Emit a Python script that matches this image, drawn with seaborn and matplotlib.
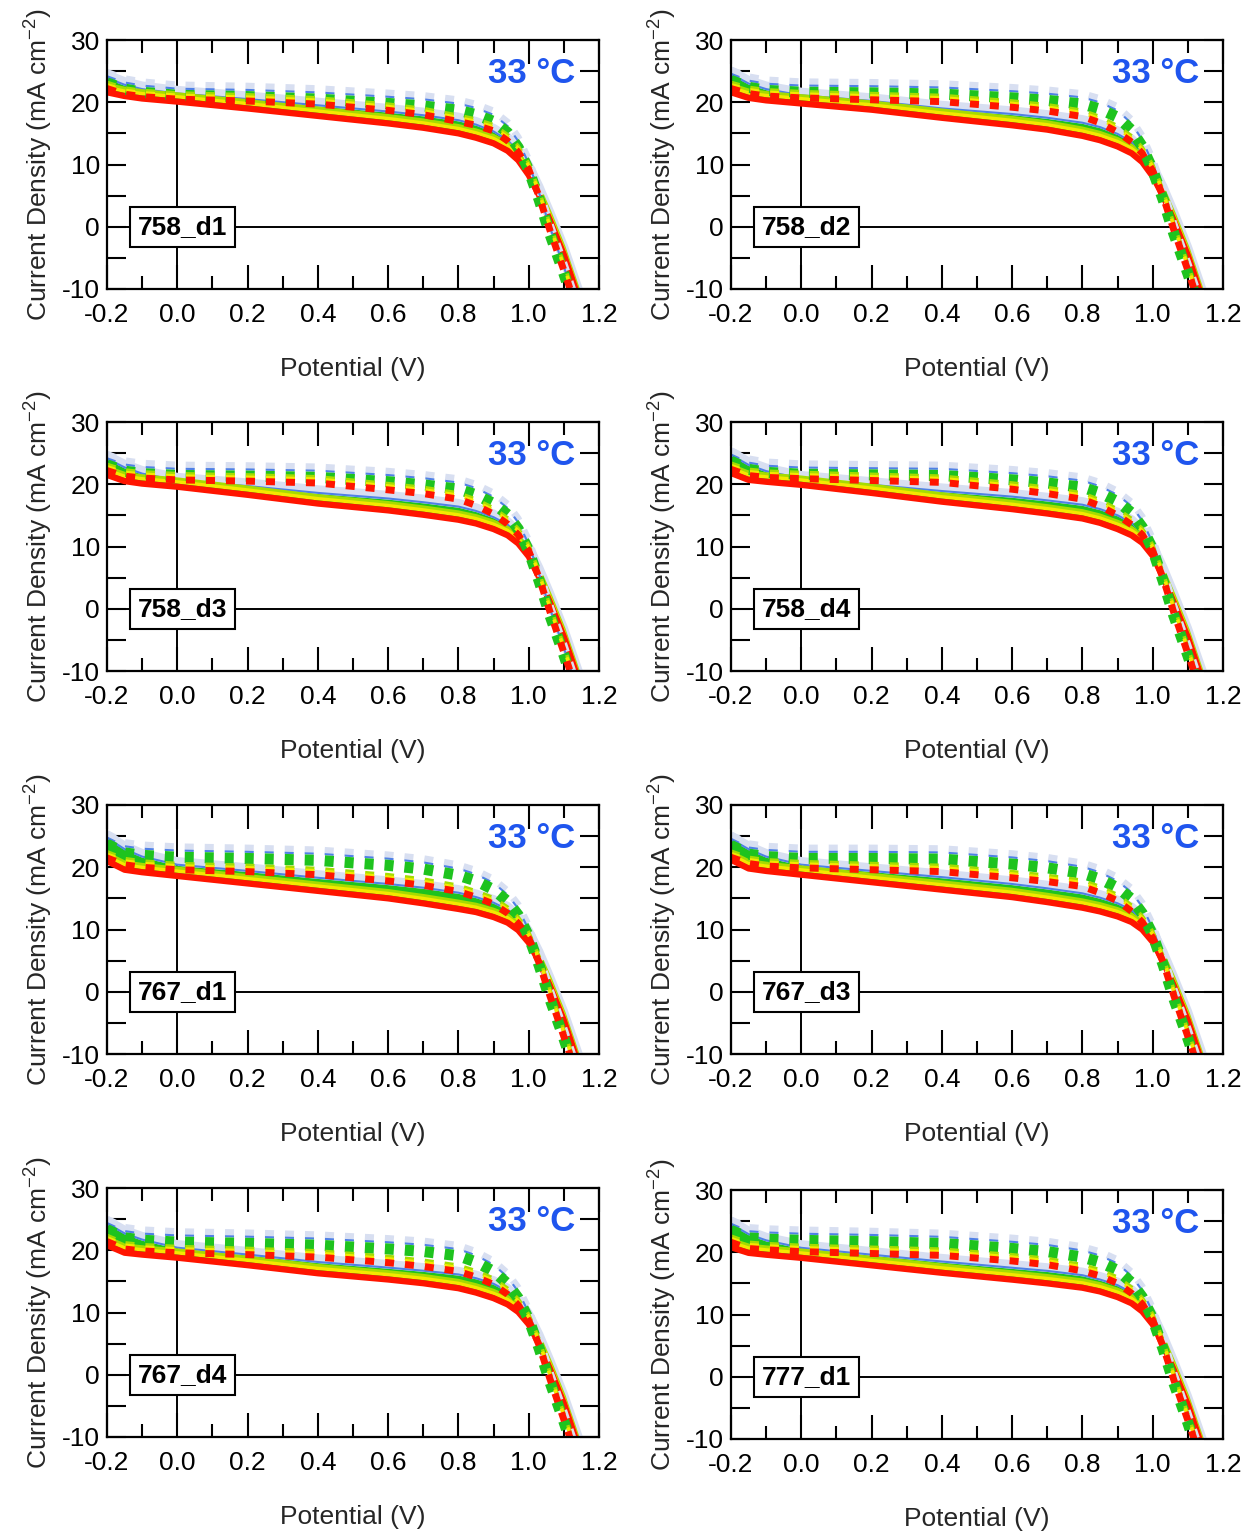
import matplotlib
matplotlib.use("Agg")
import matplotlib.pyplot as plt
import matplotlib.transforms as mtransforms
from matplotlib.ticker import MultipleLocator
import seaborn as sns

# potential grid shared by all curves (V)
potential = [-0.2, -0.15, -0.1, 0.0, 0.2, 0.4, 0.6, 0.7, 0.8, 0.85, 0.9, 0.94, 0.97,
             1.0, 1.03, 1.06, 1.1, 1.15]

devices = ["758_d1", "758_d2", "758_d3", "758_d4", "767_d1", "767_d3", "767_d4", "777_d1"]

# current density (mA cm-2)
# solid scans: upper (blue) and lower (red) edge of the family
# dashed scans: upper (blue) and lower (red) edge of the family
d758_1_solid_hi = [23.8, 22.7, 22.0, 21.3, 20.4, 19.4, 18.4, 17.8, 17.0, 16.3, 15.2, 13.8, 12.0, 9.3, 5.8, 1.8, -3.8, -12.0]
d758_1_solid_lo = [21.6, 21.0, 20.6, 20.1, 19.0, 17.8, 16.6, 15.9, 15.0, 14.3, 13.4, 12.2, 10.7, 8.3, 5.0, 1.1, -4.5, -12.8]
d758_1_dash_hi = [24.0, 23.0, 22.5, 22.0, 21.8, 21.4, 20.7, 20.3, 19.6, 18.9, 17.8, 16.0, 13.6, 10.0, 5.2, -0.2, -6.6, -15.0]
d758_1_dash_lo = [22.2, 21.3, 20.9, 20.5, 20.2, 19.7, 18.7, 18.0, 16.9, 16.3, 15.4, 13.8, 12.0, 9.2, 4.8, -0.5, -7.0, -15.5]

d758_2_solid_hi = [24.4, 22.9, 22.0, 21.0, 20.1, 18.9, 18.0, 17.4, 16.6, 15.9, 14.8, 13.5, 11.8, 9.2, 5.8, 1.8, -3.9, -12.2]
d758_2_solid_lo = [21.6, 20.7, 20.3, 19.8, 18.8, 17.5, 16.3, 15.6, 14.6, 13.9, 12.9, 11.8, 10.4, 8.1, 4.9, 1.0, -4.6, -13.0]
d758_2_dash_hi = [24.4, 23.3, 22.8, 22.5, 22.4, 22.2, 21.6, 21.2, 20.6, 19.8, 18.5, 16.4, 13.8, 10.0, 5.2, -0.2, -6.6, -15.0]
d758_2_dash_lo = [22.2, 21.4, 21.0, 20.7, 20.4, 20.1, 19.2, 18.6, 17.7, 16.7, 15.2, 13.6, 11.8, 9.0, 4.8, -0.5, -7.0, -15.5]

d758_3_solid_hi = [24.0, 22.6, 21.6, 20.5, 19.6, 18.5, 17.6, 17.0, 16.3, 15.6, 14.6, 13.4, 11.9, 9.4, 5.9, 1.9, -3.8, -12.0]
d758_3_solid_lo = [21.5, 20.5, 20.1, 19.6, 18.3, 16.9, 15.8, 15.1, 14.3, 13.7, 12.8, 11.8, 10.5, 8.4, 5.0, 1.1, -4.5, -12.8]
d758_3_dash_hi = [24.0, 23.0, 22.6, 22.3, 22.2, 22.0, 21.3, 20.8, 20.1, 19.2, 17.8, 16.0, 13.7, 10.2, 5.3, -0.1, -6.5, -15.0]
d758_3_dash_lo = [22.2, 21.3, 21.0, 20.7, 20.5, 20.2, 19.1, 18.5, 17.6, 16.6, 15.2, 13.6, 11.9, 9.3, 4.9, -0.4, -7.0, -15.5]

d758_4_solid_hi = [24.6, 23.0, 22.0, 20.8, 19.8, 18.8, 17.9, 17.3, 16.6, 15.9, 14.9, 13.7, 12.1, 9.6, 6.0, 1.9, -3.8, -12.0]
d758_4_solid_lo = [21.8, 20.7, 20.4, 19.9, 18.6, 17.2, 16.0, 15.3, 14.5, 13.8, 12.8, 11.8, 10.6, 8.5, 5.0, 1.0, -4.6, -13.0]
d758_4_dash_hi = [24.6, 23.3, 22.8, 22.5, 22.4, 22.3, 21.6, 21.1, 20.4, 19.5, 18.1, 16.3, 14.0, 10.4, 5.3, -0.2, -6.6, -15.0]
d758_4_dash_lo = [22.4, 21.4, 21.1, 20.9, 20.6, 20.3, 19.2, 18.5, 17.6, 16.5, 15.0, 13.5, 11.9, 9.3, 4.8, -0.6, -7.2, -15.6]

d767_1_solid_hi = [24.6, 22.8, 21.6, 20.3, 19.3, 18.2, 17.2, 16.6, 15.8, 15.1, 14.2, 13.1, 11.6, 9.2, 5.8, 1.8, -3.8, -12.0]
d767_1_solid_lo = [21.0, 19.6, 19.2, 18.6, 17.4, 16.2, 15.0, 14.2, 13.3, 12.8, 12.0, 11.1, 9.9, 7.9, 4.8, 1.0, -4.6, -13.0]
d767_1_dash_hi = [24.6, 23.2, 22.8, 22.5, 22.3, 22.0, 21.2, 20.6, 19.6, 18.7, 17.3, 15.4, 13.2, 9.8, 5.1, -0.2, -6.6, -15.0]
d767_1_dash_lo = [21.5, 20.4, 20.0, 19.6, 19.3, 18.8, 17.8, 17.1, 16.1, 15.2, 14.1, 12.6, 11.0, 8.6, 4.6, -0.6, -7.2, -15.6]

d767_3_solid_hi = [24.4, 22.8, 21.6, 20.3, 19.3, 18.3, 17.2, 16.5, 15.7, 15.0, 14.1, 13.0, 11.5, 9.2, 5.8, 1.8, -3.8, -12.0]
d767_3_solid_lo = [21.2, 19.8, 19.4, 18.8, 17.6, 16.4, 15.2, 14.4, 13.5, 12.9, 12.1, 11.2, 10.0, 8.0, 4.8, 1.0, -4.6, -13.0]
d767_3_dash_hi = [24.4, 23.0, 22.6, 22.3, 22.3, 22.2, 21.4, 20.8, 19.9, 19.0, 17.6, 15.8, 13.5, 10.0, 5.2, -0.2, -6.6, -15.0]
d767_3_dash_lo = [21.6, 20.6, 20.2, 19.9, 19.6, 19.3, 18.3, 17.7, 16.9, 15.9, 14.6, 12.9, 11.2, 8.7, 4.7, -0.6, -7.2, -15.6]

d767_4_solid_hi = [24.2, 22.6, 21.6, 20.3, 19.2, 18.0, 17.1, 16.6, 16.0, 15.4, 14.5, 13.3, 11.7, 9.2, 5.8, 1.8, -3.8, -12.0]
d767_4_solid_lo = [20.8, 19.6, 19.3, 18.8, 17.6, 16.3, 15.3, 14.7, 13.9, 13.2, 12.3, 11.3, 10.1, 8.1, 4.9, 1.0, -4.6, -13.0]
d767_4_dash_hi = [24.2, 22.9, 22.5, 22.2, 22.0, 21.7, 21.1, 20.7, 20.0, 19.0, 17.5, 15.5, 13.2, 9.8, 5.1, -0.2, -6.6, -15.0]
d767_4_dash_lo = [21.4, 20.2, 19.9, 19.6, 19.3, 18.9, 18.0, 17.4, 16.6, 15.7, 14.5, 12.9, 11.2, 8.7, 4.7, -0.6, -7.2, -15.6]

d777_1_solid_hi = [24.4, 22.8, 21.8, 20.6, 19.5, 18.4, 17.4, 16.9, 16.2, 15.5, 14.6, 13.4, 11.9, 9.5, 6.0, 1.9, -3.8, -12.0]
d777_1_solid_lo = [20.8, 19.9, 19.6, 19.1, 17.9, 16.7, 15.6, 15.0, 14.3, 13.7, 12.8, 11.8, 10.5, 8.4, 5.0, 1.1, -4.5, -12.8]
d777_1_dash_hi = [24.4, 23.2, 23.0, 22.8, 22.6, 22.3, 21.5, 21.0, 20.1, 19.3, 18.0, 16.0, 13.7, 10.2, 5.3, -0.1, -6.5, -15.0]
d777_1_dash_lo = [21.6, 20.6, 20.4, 20.1, 19.8, 19.5, 18.6, 18.0, 17.0, 16.2, 15.0, 13.4, 11.7, 9.1, 4.8, -0.5, -7.0, -15.5]

panels = [
    (d758_1_solid_hi, d758_1_solid_lo, d758_1_dash_hi, d758_1_dash_lo),
    (d758_2_solid_hi, d758_2_solid_lo, d758_2_dash_hi, d758_2_dash_lo),
    (d758_3_solid_hi, d758_3_solid_lo, d758_3_dash_hi, d758_3_dash_lo),
    (d758_4_solid_hi, d758_4_solid_lo, d758_4_dash_hi, d758_4_dash_lo),
    (d767_1_solid_hi, d767_1_solid_lo, d767_1_dash_hi, d767_1_dash_lo),
    (d767_3_solid_hi, d767_3_solid_lo, d767_3_dash_hi, d767_3_dash_lo),
    (d767_4_solid_hi, d767_4_solid_lo, d767_4_dash_hi, d767_4_dash_lo),
    (d777_1_solid_hi, d777_1_solid_lo, d777_1_dash_hi, d777_1_dash_lo),
]

temperature_label = "33 \u00b0C"

HAZE = "#d8dff1"
BLUE = "#4f80e6"
GREEN = "#1ec31e"
LIME = "#a6dc00"
YELLOW = "#f4e800"
RED = "#ff1500"
DASH = (0, (6.5, 7.9))

sns.set_style("ticks")
plt.rcParams["font.family"] = ["Liberation Sans Narrow", "Liberation Sans", "DejaVu Sans"]
plt.rcParams["mathtext.default"] = "regular"
plt.rcParams["lines.scale_dashes"] = False

W, H = 1248, 1537
fig = plt.figure(figsize=(W / 100, H / 100), dpi=100)

col_left = [107, 731]
row_top = [[40, 40], [422, 422], [805, 805], [1188, 1190]]
ax_w, ax_h = 492, 249


def shifted(ax, dy):
    return mtransforms.offset_copy(ax.transData, fig=ax.figure, x=0, y=dy, units="points")


def curve(ax, y, color, lw, dy=0.0, dashed=False, z=3):
    sns.lineplot(x=potential, y=y, ax=ax, color=color, linewidth=lw,
                 linestyle=DASH if dashed else "-", transform=shifted(ax, dy),
                 zorder=z, solid_capstyle="butt", dash_capstyle="butt",
                 solid_joinstyle="round")


def draw_panel(ax, name, s_hi, s_lo, d_hi, d_lo):
    ax.axhline(0, color="black", lw=1.4, zorder=1)
    ax.axvline(0, color="black", lw=1.4, zorder=1)

    # solid scans: gradient band from blue (top) to red (bottom)
    curve(ax, s_hi, HAZE, 6, dy=3, z=2)
    ax.fill_between(potential, s_lo, s_hi, color=GREEN, lw=0, zorder=2.5)
    curve(ax, s_hi, BLUE, 1.5, dy=0.5, z=3)
    curve(ax, s_lo, LIME, 2.5, dy=5.5, z=3.1)
    curve(ax, s_lo, YELLOW, 2.5, dy=3.5, z=3.2)
    curve(ax, s_lo, RED, 4.5, dy=0, z=3.3)

    # dashed scans on top
    curve(ax, d_hi, HAZE, 5, dy=3.5, dashed=True, z=4)
    curve(ax, d_hi, BLUE, 1.5, dy=0.8, dashed=True, z=4.1)
    curve(ax, d_hi, GREEN, 8, dy=-4, dashed=True, z=4.2)
    curve(ax, d_lo, LIME, 2.5, dy=4.5, dashed=True, z=4.3)
    curve(ax, d_lo, YELLOW, 2.5, dy=2.8, dashed=True, z=4.4)
    curve(ax, d_lo, RED, 5, dy=0, dashed=True, z=4.5)

    ax.set_xlim(-0.2, 1.2)
    ax.set_ylim(-10, 30)
    ax.xaxis.set_major_locator(MultipleLocator(0.2))
    ax.xaxis.set_minor_locator(MultipleLocator(0.1))
    ax.yaxis.set_major_locator(MultipleLocator(10))
    ax.yaxis.set_minor_locator(MultipleLocator(5))
    ax.xaxis.set_major_formatter(lambda v, p: f"{v:.1f}")
    ax.yaxis.set_major_formatter(lambda v, p: f"{v:.0f}")
    ax.tick_params(which="both", direction="in", top=True, right=True,
                   width=1.5, colors="black", labelsize=19)
    ax.tick_params(axis="x", which="major", length=17, pad=10)
    ax.tick_params(axis="x", which="minor", length=9.5)
    ax.tick_params(axis="y", which="both", length=14, pad=5)
    for sp in ax.spines.values():
        sp.set_linewidth(1.6)
        sp.set_color("black")
        sp.set_zorder(7)

    ax.set_xlabel("Potential (V)", fontsize=19)
    ax.set_ylabel("Current Density (mA cm$^{-2}$)", fontsize=19)
    ax.xaxis.set_label_coords(0.5, -0.275)
    ax.yaxis.set_label_coords(-0.105, 0.5)

    ax.text(0.952, 0.865, temperature_label, transform=ax.transAxes, ha="right",
            va="center", fontsize=25, fontweight="bold", color="#1f55ee",
            family=["Liberation Sans", "DejaVu Sans"], zorder=8)
    ax.text(0.153, 0.25, name, transform=ax.transAxes, ha="center", va="center",
            fontsize=19, fontweight="bold", color="black", zorder=8,
            bbox=dict(boxstyle="square,pad=0.3", fc="white", ec="black", lw=1.5))


for i, name in enumerate(devices):
    r, c = divmod(i, 2)
    x0 = col_left[c]
    y0 = row_top[r][c]
    ax = fig.add_axes([x0 / W, 1 - (y0 + ax_h) / H, ax_w / W, ax_h / H])
    draw_panel(ax, name, *panels[i])

fig.savefig("out.png", dpi=100, facecolor="white")
